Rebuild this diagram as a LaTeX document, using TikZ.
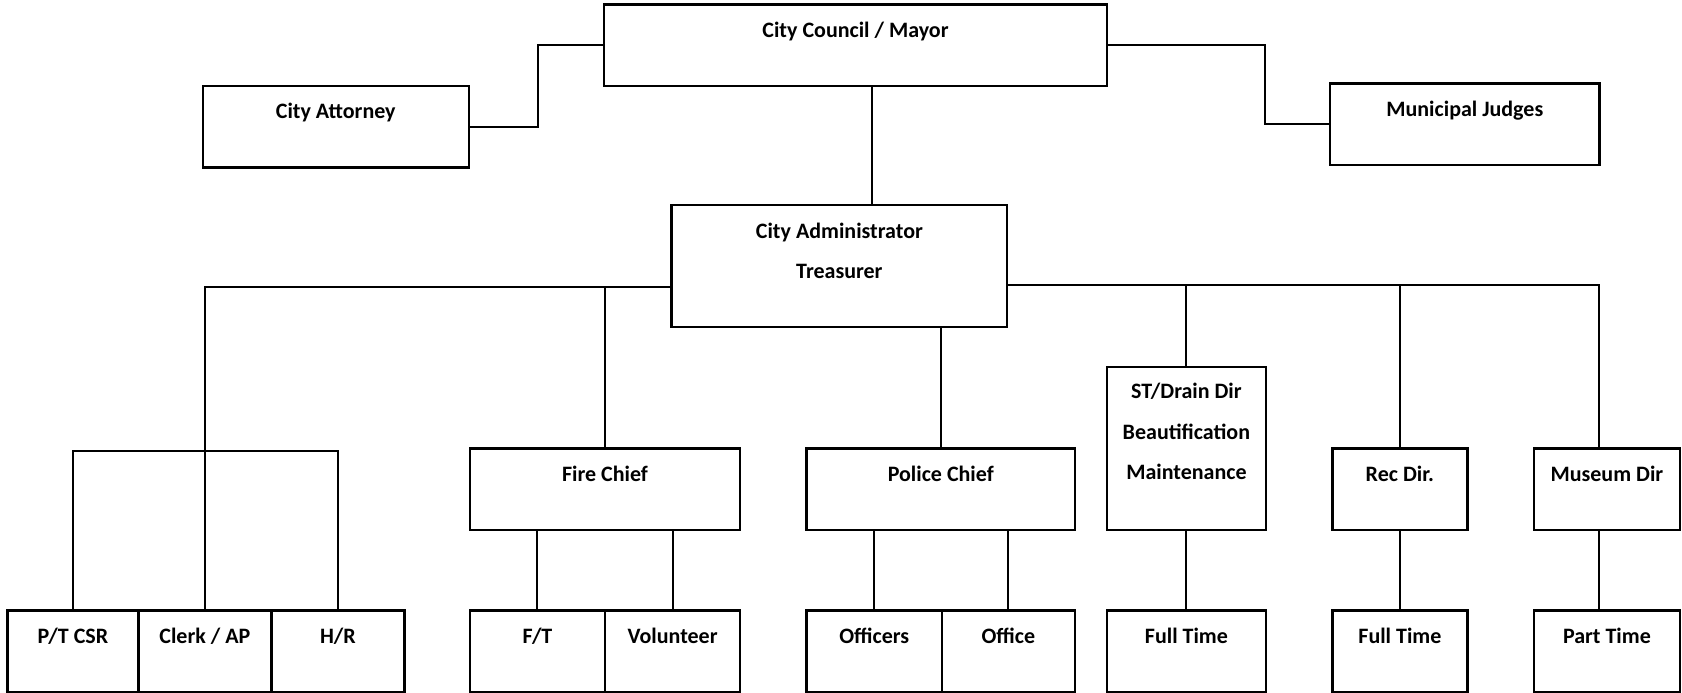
\documentclass[tikz,border=0pt]{standalone}
\usepackage{fontspec}
\setmainfont{Carlito}
\newcommand\U{0.53635pt}
\newcommand\mlines[1]{{\renewcommand\arraystretch{1.55}\begin{tabular}[t]{@{}c@{}}#1\end{tabular}}}
\tikzset{
  box/.style={draw, line width=1.2pt, inner sep=0pt, rectangle},
  lbl/.style={anchor=base, inner sep=0pt, font=\fontsize{11}{13}\selectfont\bfseries},
  conn/.style={line width=1pt},
}
\begin{document}
\begin{tikzpicture}[x=0.53635pt, y=-0.53635pt]
\useasboundingbox (0,0) rectangle (1568,646);
% top level
\node[box, minimum width=469*\U, minimum height=76*\U] (cc) at (797.5,42) {};
\node[lbl] (ccT) at ([yshift=-32*\U]cc.north) {City Council / Mayor};
\node[box, minimum width=248*\U, minimum height=76*\U] (att) at (313,118) {};
\node[lbl] (attT) at ([yshift=-32*\U]att.north) {City Attorney};
\node[box, minimum width=251*\U, minimum height=76*\U] (jud) at (1365.5,116) {};
\node[lbl] (judT) at ([yshift=-32*\U]jud.north) {Municipal Judges};
\node[box, minimum width=313*\U, minimum height=114*\U] (adm) at (782.5,248) {};
\node[lbl] (admT) at ([yshift=-32*\U]adm.north) {\mlines{City Administrator\\Treasurer}};
% middle level
\node[box, minimum width=252*\U, minimum height=76*\U] (fire) at (564,456) {};
\node[lbl] (fireT) at ([yshift=-32*\U]fire.north) {Fire Chief};
\node[box, minimum width=250*\U, minimum height=76*\U] (pol) at (877,456) {};
\node[lbl] (polT) at ([yshift=-32*\U]pol.north) {Police Chief};
\node[box, minimum width=148*\U, minimum height=152*\U] (st) at (1106,418) {};
\node[lbl] (stT) at ([yshift=-31*\U]st.north) {\mlines{ST/Drain Dir\\Beautification\\Maintenance}};
\node[box, minimum width=126*\U, minimum height=76*\U] (rec) at (1305,456) {};
\node[lbl] (recT) at ([yshift=-32*\U]rec.north) {Rec Dir.};
\node[box, minimum width=136*\U, minimum height=76*\U] (mus) at (1498,456) {};
\node[lbl] (musT) at ([yshift=-32*\U]mus.north) {Museum Dir};
% bottom level
\node[box, minimum width=122*\U, minimum height=76*\U] (csr) at (68,607) {};
\node[lbl] (csrT) at ([yshift=-32*\U]csr.north) {P/T CSR};
\node[box, minimum width=124*\U, minimum height=76*\U] (clerk) at (191,607) {};
\node[lbl] (clerkT) at ([yshift=-32*\U]clerk.north) {Clerk / AP};
\node[box, minimum width=124*\U, minimum height=76*\U] (hr) at (315,607) {};
\node[lbl] (hrT) at ([yshift=-32*\U]hr.north) {H/R};
\node[box, minimum width=126*\U, minimum height=76*\U] (ft) at (501,607) {};
\node[lbl] (ftT) at ([yshift=-32*\U]ft.north) {F/T};
\node[box, minimum width=126*\U, minimum height=76*\U] (vol) at (627,607) {};
\node[lbl] (volT) at ([yshift=-32*\U]vol.north) {Volunteer};
\node[box, minimum width=126*\U, minimum height=76*\U] (offi) at (815,607) {};
\node[lbl] (offiT) at ([yshift=-32*\U]offi.north) {Officers};
\node[box, minimum width=124*\U, minimum height=76*\U] (ofc) at (940,607) {};
\node[lbl] (ofcT) at ([yshift=-32*\U]ofc.north) {Office};
\node[box, minimum width=148*\U, minimum height=76*\U] (stft) at (1106,607) {};
\node[lbl] (stftT) at ([yshift=-32*\U]stft.north) {Full Time};
\node[box, minimum width=126*\U, minimum height=76*\U] (recft) at (1305,607) {};
\node[lbl] (recftT) at ([yshift=-32*\U]recft.north) {Full Time};
\node[box, minimum width=136*\U, minimum height=76*\U] (mpt) at (1498,607) {};
\node[lbl] (mptT) at ([yshift=-32*\U]mpt.north) {Part Time};
% helper coordinates
\coordinate (v1) at (813,0);
\coordinate (aL) at (626,268);
\coordinate (aR) at (939,266);
\coordinate (cbar) at (191,420);
\coordinate (mline) at (1491,0);
% connectors
\draw[conn] (att.east) -- ++(63,0) |- (cc.west);
\draw[conn] (cc.east) -- ++(146,0) |- (jud.west);
\draw[conn] (cc.south -| v1) -- (adm.north -| v1);
\draw[conn] (aL) -| (clerk.north);
\draw[conn] (csr.north) |- (cbar) -| (hr.north);
\draw[conn] (fire.north |- aL) -- (fire.north);
\draw[conn] (pol.north |- adm.south) -- (pol.north);
\draw[conn] (aR) -| (mline |- mus.north);
\draw[conn] (st.north |- aR) -- (st.north);
\draw[conn] (rec.north |- aR) -- (rec.north);
\draw[conn] (ft.north |- fire.south) -- (ft.north);
\draw[conn] (vol.north |- fire.south) -- (vol.north);
\draw[conn] (offi.north |- pol.south) -- (offi.north);
\draw[conn] (ofc.north |- pol.south) -- (ofc.north);
\draw[conn] (st.south) -- (stft.north);
\draw[conn] (rec.south) -- (recft.north);
\draw[conn] (mline |- mus.south) -- (mline |- mpt.north);
\end{tikzpicture}
\end{document}
